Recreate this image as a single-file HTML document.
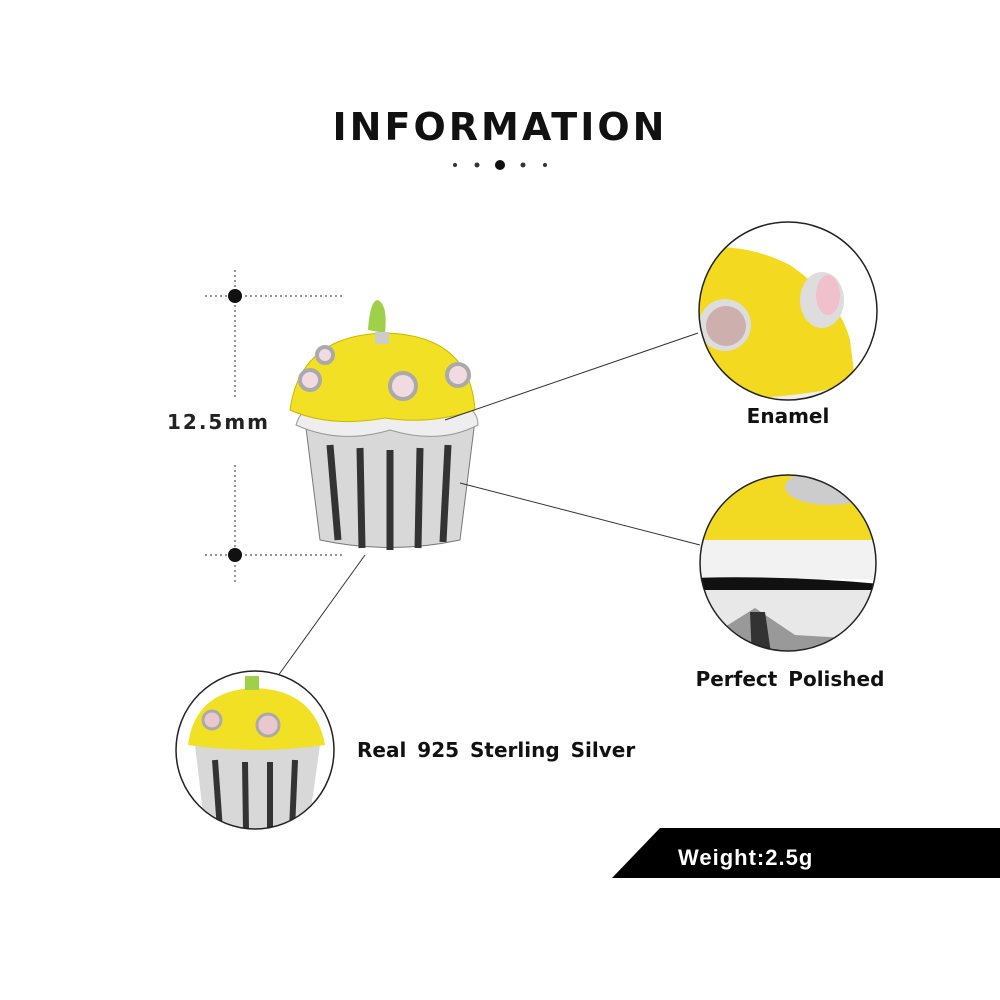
<!DOCTYPE html>
<html><head><style>
html,body{margin:0;padding:0;background:#fff;}
svg{display:block}
text{font-family:"DejaVu Sans",sans-serif;font-weight:bold;}
</style></head><body>
<svg width="1000" height="1000" viewBox="0 0 1000 1000">
<rect width="1000" height="1000" fill="#fff"/>
<text x="500" y="140" text-anchor="middle" font-size="38" letter-spacing="3" fill="#111">INFORMATION</text>
<g fill="#333"><circle cx="455" cy="165" r="2"/><circle cx="477" cy="165" r="2.5"/><circle cx="500" cy="165" r="5" fill="#111"/><circle cx="523" cy="165" r="2.5"/><circle cx="545" cy="165" r="2"/></g>
<g stroke="#555" stroke-width="1.2" stroke-dasharray="2 3" fill="none">
<line x1="235" y1="270" x2="235" y2="400"/><line x1="235" y1="465" x2="235" y2="585"/>
<line x1="205" y1="296" x2="345" y2="296"/><line x1="205" y1="555" x2="345" y2="555"/>
</g>
<circle cx="235" cy="296" r="7" fill="#111"/><circle cx="235" cy="555" r="7" fill="#111"/>
<text x="167" y="429" font-size="20" letter-spacing="2" fill="#222">12.5mm</text>
<g>
<path d="M305 420 L475 420 L460 540 Q390 555 320 540 Z" fill="#d8d8d8" stroke="#777"/>
<g stroke="#333" stroke-width="7"><line x1="330" y1="445" x2="338" y2="540"/><line x1="360" y1="448" x2="362" y2="548"/><line x1="390" y1="450" x2="390" y2="550"/><line x1="420" y1="448" x2="418" y2="548"/><line x1="448" y1="445" x2="443" y2="542"/></g>
<path d="M296 425 Q300 410 315 405 L465 405 Q478 412 478 425 Q440 445 390 430 Q340 445 296 425Z" fill="#eee" stroke="#999"/>
<path d="M290 410 Q300 335 385 333 Q470 335 475 410 Q430 425 385 418 Q330 428 290 410Z" fill="#f2e024" stroke="#c9b800"/>
<path d="M368 330 Q370 300 378 300 Q388 305 385 333 Z" fill="#9ed04a"/>
<rect x="375" y="332" width="14" height="12" fill="#ccc"/>
<g fill="#f1dbe0" stroke="#aaa" stroke-width="4"><circle cx="310" cy="380" r="10"/><circle cx="403" cy="386" r="13"/><circle cx="458" cy="375" r="11"/><circle cx="325" cy="355" r="8"/></g>
</g>
<g stroke="#333" stroke-width="1"><line x1="445" y1="420" x2="698" y2="333"/><line x1="460" y1="483" x2="700" y2="545"/><line x1="365" y1="555" x2="275" y2="680"/></g>
<defs>
<clipPath id="c1"><circle cx="788" cy="311" r="89"/></clipPath>
<clipPath id="c2"><circle cx="788" cy="563" r="88"/></clipPath>
<clipPath id="c3"><circle cx="255" cy="750" r="79"/></clipPath>
</defs>
<g clip-path="url(#c1)">
<rect x="690" y="220" width="200" height="190" fill="#fff"/>
<path d="M690 250 Q740 240 790 265 Q840 300 850 340 L855 380 Q800 405 690 400Z" fill="#f3d91f"/>
<circle cx="725" cy="325" r="26" fill="#ddd"/><circle cx="726" cy="326" r="20" fill="#cdb0ad"/>
<ellipse cx="822" cy="300" rx="22" ry="28" fill="#ddd"/><ellipse cx="828" cy="295" rx="12" ry="20" fill="#f0c0cc"/>
<path d="M690 400 Q790 400 850 385 L880 400 L880 410 L690 410Z" fill="#eee"/>
</g>
<circle cx="788" cy="311" r="89" fill="none" stroke="#222" stroke-width="1.5"/>
<text x="788" y="423" text-anchor="middle" font-size="20" fill="#111">Enamel</text>
<g clip-path="url(#c2)">
<rect x="690" y="470" width="200" height="190" fill="#fff"/>
<path d="M690 470 L890 470 L890 540 L690 540Z" fill="#f2da22"/>
<ellipse cx="830" cy="487" rx="45" ry="18" fill="#ccc"/>
<path d="M690 540 L890 540 L890 580 Q800 578 690 580Z" fill="#f2f2f2"/>
<path d="M690 578 Q790 575 890 585 L890 590 L690 590Z" fill="#111"/>
<path d="M690 590 L890 590 L890 660 L690 660Z" fill="#e8e8e8"/>
<path d="M720 630 L755 608 L795 635 L880 640 L880 660 L720 660Z" fill="#999"/>
<path d="M750 612 L765 612 L772 660 L752 660Z" fill="#333"/>
</g>
<circle cx="788" cy="563" r="88" fill="none" stroke="#222" stroke-width="1.5"/>
<text x="790" y="686" text-anchor="middle" font-size="20" fill="#111" word-spacing="4">Perfect Polished</text>
<g clip-path="url(#c3)">
<rect x="175" y="670" width="160" height="160" fill="#fff"/>
<path d="M195 745 L320 745 L308 830 L205 830Z" fill="#d8d8d8"/>
<g stroke="#333" stroke-width="6"><line x1="215" y1="760" x2="220" y2="830"/><line x1="245" y1="762" x2="246" y2="830"/><line x1="270" y1="762" x2="270" y2="830"/><line x1="295" y1="760" x2="292" y2="830"/></g>
<path d="M188 745 Q195 690 255 688 Q315 690 325 745 Q255 755 188 745Z" fill="#f2e024"/>
<rect x="245" y="676" width="14" height="14" fill="#9ed04a"/>
<circle cx="212" cy="720" r="9" fill="#e8c8cc" stroke="#aaa" stroke-width="3"/>
<circle cx="268" cy="725" r="11" fill="#e8c8cc" stroke="#aaa" stroke-width="3"/>
</g>
<circle cx="255" cy="750" r="79" fill="none" stroke="#222" stroke-width="1.5"/>
<text x="357" y="757" font-size="20" fill="#111" word-spacing="4">Real 925 Sterling Silver</text>
<polygon points="660,828 1000,828 1000,878 612,878" fill="#000"/>
<text x="678" y="865" font-size="22" letter-spacing="1" fill="#fff" style="font-family:'Liberation Sans',sans-serif">Weight:2.5g</text>
</svg>
</body></html>
